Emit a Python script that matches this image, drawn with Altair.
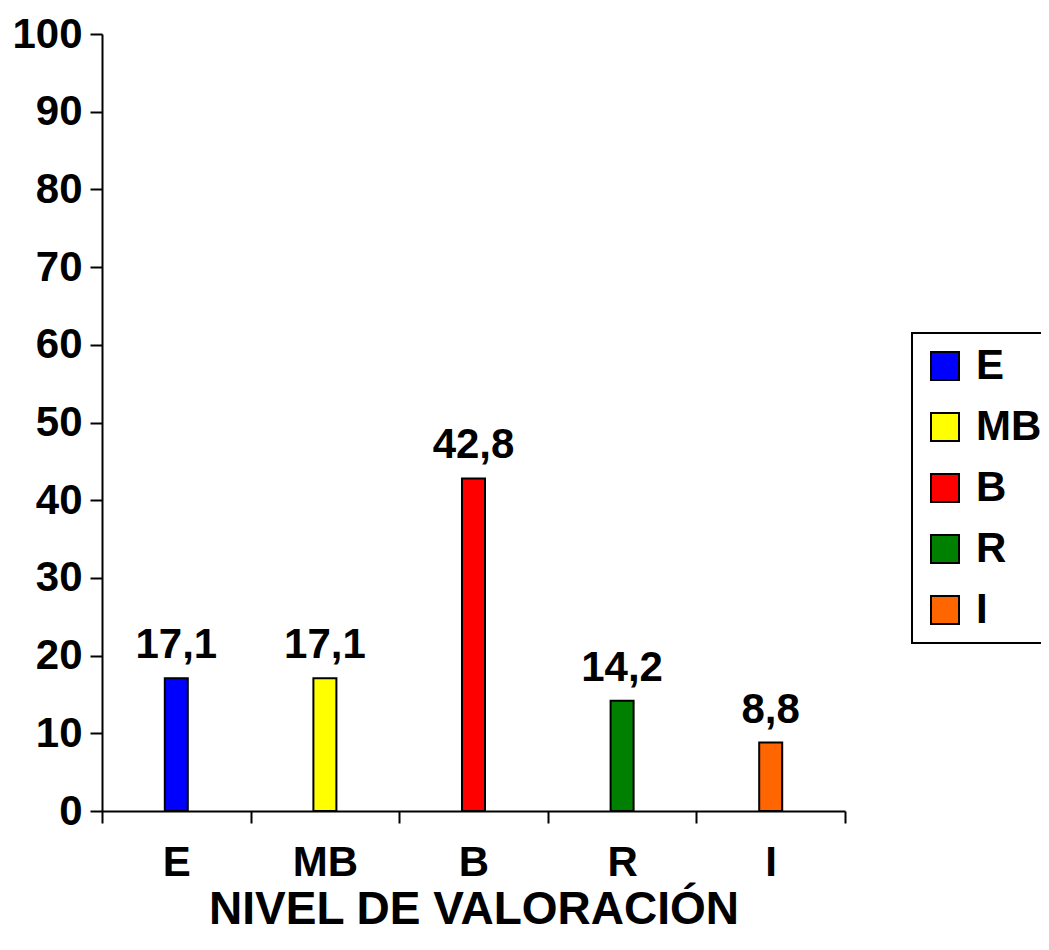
import altair as alt
import pandas as pd

categories = ["E", "MB", "B", "R", "I"]
values = [17.1, 17.1, 42.8, 14.2, 8.8]
colors = ["#0000FF", "#FFFF00", "#FF0000", "#008000", "#FF6600"]
y_ticks = [0, 10, 20, 30, 40, 50, 60, 70, 80, 90, 100]
x_title = "NIVEL DE VALORACIÓN"

df = pd.DataFrame({"cat": categories, "val": values})
df["label"] = [f"{v:.1f}".replace(".", ",") for v in values]

FONT = "Liberation Sans"
FS = 42

x_enc = alt.X(
    "cat:N",
    sort=categories,
    scale=alt.Scale(paddingInner=0, paddingOuter=0),
    axis=alt.Axis(
        title=x_title,
        labelAngle=0,
        tickBand="extent",
        tickSize=12,
        labelPadding=19,
        titlePadding=4,
        titleFontSize=46,
    ),
)
y_enc = alt.Y(
    "val:Q",
    scale=alt.Scale(domain=[0, 100], nice=False),
    axis=alt.Axis(values=y_ticks, title=None, tickSize=12, labelPadding=8, grid=False),
)

bars = alt.Chart(df).mark_bar(size=23, stroke="black", strokeWidth=2).encode(
    x=x_enc,
    y=y_enc,
    color=alt.Color(
        "cat:N",
        scale=alt.Scale(domain=categories, range=colors),
        legend=alt.Legend(
            title=None,
            orient="none",
            legendX=810,
            legendY=299,
            symbolType="square",
            symbolSize=784,
            symbolStrokeColor="black",
            symbolStrokeWidth=2,
            labelFontSize=FS,
            labelFont=FONT,
            labelFontWeight="bold",
            labelColor="black",
            labelOffset=10,
            rowPadding=19,
            padding=12,
            strokeColor="black",
        ),
    ),
)

text = alt.Chart(df).mark_text(
    dy=-20, baseline="alphabetic", fontSize=FS, fontWeight="bold", font=FONT, color="black"
).encode(x=alt.X("cat:N", sort=categories), y="val:Q", text="label:N")

chart = (
    alt.layer(bars, text)
    .properties(
        width=743,
        height=777,
        autosize=alt.AutoSizeParams(type="none"),
        padding={"left": 94, "top": 26, "right": 196, "bottom": 123},
    )
    .configure_view(stroke=None)
    .configure_axis(
        domainColor="black",
        domainWidth=2,
        tickColor="black",
        tickWidth=2,
        labelColor="black",
        labelFont=FONT,
        labelFontSize=FS,
        labelFontWeight="bold",
        titleColor="black",
        titleFont=FONT,
        titleFontWeight="bold",
        grid=False,
    )
    .configure_legend(strokeWidth=2)
)

chart.save("out.html", embed_options={"renderer": "svg", "actions": False})
